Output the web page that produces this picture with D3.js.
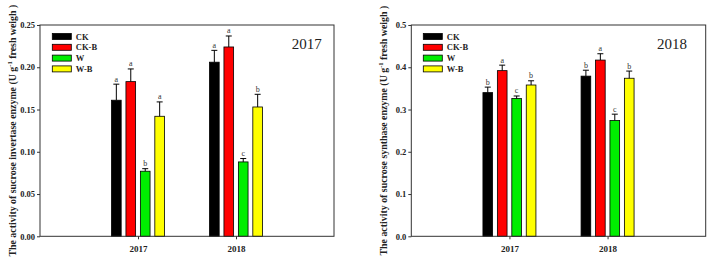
<!DOCTYPE html>
<html><head><meta charset="utf-8">
<script src="https://cdn.jsdelivr.net/npm/d3@7"></script>
<style>body{margin:0;background:#fff}svg{display:block}</style>
</head><body>
<svg id="c" width="708" height="265"></svg>
<script>
const years = ["2017", "2018"];
const treatments = ["CK", "CK-B", "W", "W-B"];
const colors = ["#000000", "#ff0000", "#00ee00", "#ffff00"];

// Panel A: sucrose invertase, per year, per treatment
const invertaseMean = [[0.161, 0.183, 0.077, 0.142], [0.206, 0.224, 0.088, 0.153]];
const invertaseErr  = [[0.019, 0.015, 0.003, 0.017], [0.014, 0.013, 0.004, 0.015]];
const invertaseLetters = [["a", "a", "b", "a"], ["a", "a", "c", "b"]];
const invertaseTicks = [0, 0.05, 0.10, 0.15, 0.20, 0.25];

// Panel B: sucrose synthase
const synthaseMean = [[0.340, 0.392, 0.326, 0.358], [0.379, 0.417, 0.274, 0.374]];
const synthaseErr  = [[0.013, 0.013, 0.006, 0.010], [0.014, 0.015, 0.015, 0.017]];
const synthaseLetters = [["b", "a", "c", "b"], ["b", "a", "c", "b"]];
const synthaseTicks = [0, 0.1, 0.2, 0.3, 0.4, 0.5];

const svg = d3.select("#c");
const serif = "'Liberation Serif','Times New Roman',serif";

function panel(o) {
  const g = svg.append("g").attr("transform", `translate(${o.left},${o.top})`);
  const w = o.width, h = o.height;
  const y = d3.scaleLinear().domain([0, o.max]).range([h, 0]);
  const x = d3.scalePoint().domain(years).range([w / 3, 2 * w / 3]);
  const xi = d3.scaleBand().domain(treatments).range([-26.5, 26.5]).paddingInner(0.33);

  years.forEach((yr, i) => {
    treatments.forEach((t, j) => {
      const v = o.mean[i][j], e = o.err[i][j];
      const bx = x(yr) + xi(t), bw = xi.bandwidth(), cx = bx + bw / 2;
      g.append("rect").attr("x", bx).attr("y", y(v)).attr("width", bw).attr("height", h - y(v))
        .attr("fill", colors[j]).attr("stroke", "#000").attr("stroke-width", 0.8);
      g.append("line").attr("x1", cx).attr("x2", cx).attr("y1", y(v)).attr("y2", y(v + e))
        .attr("stroke", "#000").attr("stroke-width", 1);
      g.append("line").attr("x1", cx - 3).attr("x2", cx + 3).attr("y1", y(v + e)).attr("y2", y(v + e))
        .attr("stroke", "#000").attr("stroke-width", 1);
      g.append("text").attr("x", cx).attr("y", y(v + e) - 2.5).attr("text-anchor", "middle")
        .attr("font-family", serif).attr("font-size", 8).attr("fill", "#333").text(o.letters[i][j]);
    });
  });

  g.append("rect").attr("x", 0).attr("y", 0).attr("width", w).attr("height", h)
    .attr("fill", "none").attr("stroke", "#333").attr("stroke-width", 1);

  const ya = g.append("g").call(d3.axisLeft(y).tickValues(o.ticks).tickSize(3).tickPadding(2).tickFormat(d3.format(o.fmt)));
  ya.select(".domain").remove();
  ya.selectAll("line").attr("stroke", "#333");
  ya.selectAll("text").attr("font-family", serif).attr("font-weight", "bold").attr("font-size", 8.5).attr("fill", "#222");

  const xa = g.append("g").attr("transform", `translate(0,${h})`).call(d3.axisBottom(x).tickSize(3).tickPadding(6));
  xa.select(".domain").remove();
  xa.selectAll("line").attr("stroke", "#333");
  xa.selectAll("text").attr("font-family", serif).attr("font-weight", "bold").attr("font-size", 9).attr("fill", "#222");

  treatments.forEach((t, j) => {
    const ly = 8.5 + j * 10.8;
    g.append("rect").attr("x", o.legX).attr("y", ly).attr("width", 19).attr("height", 6)
      .attr("fill", colors[j]).attr("stroke", "#000").attr("stroke-width", 0.8);
    g.append("text").attr("x", o.legX + 23.5).attr("y", ly + 6).attr("font-family", serif)
      .attr("font-weight", "bold").attr("font-size", 8.5).attr("fill", "#222").text(t);
  });

  g.append("text").attr("x", o.yearX).attr("y", 24).attr("text-anchor", "middle")
    .attr("font-family", serif).attr("font-size", 15).attr("fill", "#222").text(o.year);

  const tt = svg.append("text").attr("transform", `translate(${o.titleX},${o.top + h / 2}) rotate(-90)`)
    .attr("text-anchor", "middle").attr("font-family", serif).attr("font-weight", "bold")
    .attr("font-size", 9.9).attr("fill", "#222");
  tt.append("tspan").text(o.title + " (U g");
  tt.append("tspan").attr("dy", -4).attr("font-size", 6.5).text("-1");
  tt.append("tspan").attr("dy", 4).text(" fresh weigh  )");
}

panel({left: 40, top: 25, width: 294, height: 211.3, max: 0.25, ticks: invertaseTicks, fmt: ".2f",
  mean: invertaseMean, err: invertaseErr, letters: invertaseLetters, legX: 12.3, yearX: 266.7, year: "2017",
  titleX: 15.5, title: "The activity of sucrose invertase enzyme"});
panel({left: 411.3, top: 25, width: 294.4, height: 211.3, max: 0.5, ticks: synthaseTicks, fmt: ".1f",
  mean: synthaseMean, err: synthaseErr, letters: synthaseLetters, legX: 12, yearX: 260.7, year: "2018",
  titleX: 387, title: "The activity of sucrose synthase enzyme"});
</script>
</body></html>
